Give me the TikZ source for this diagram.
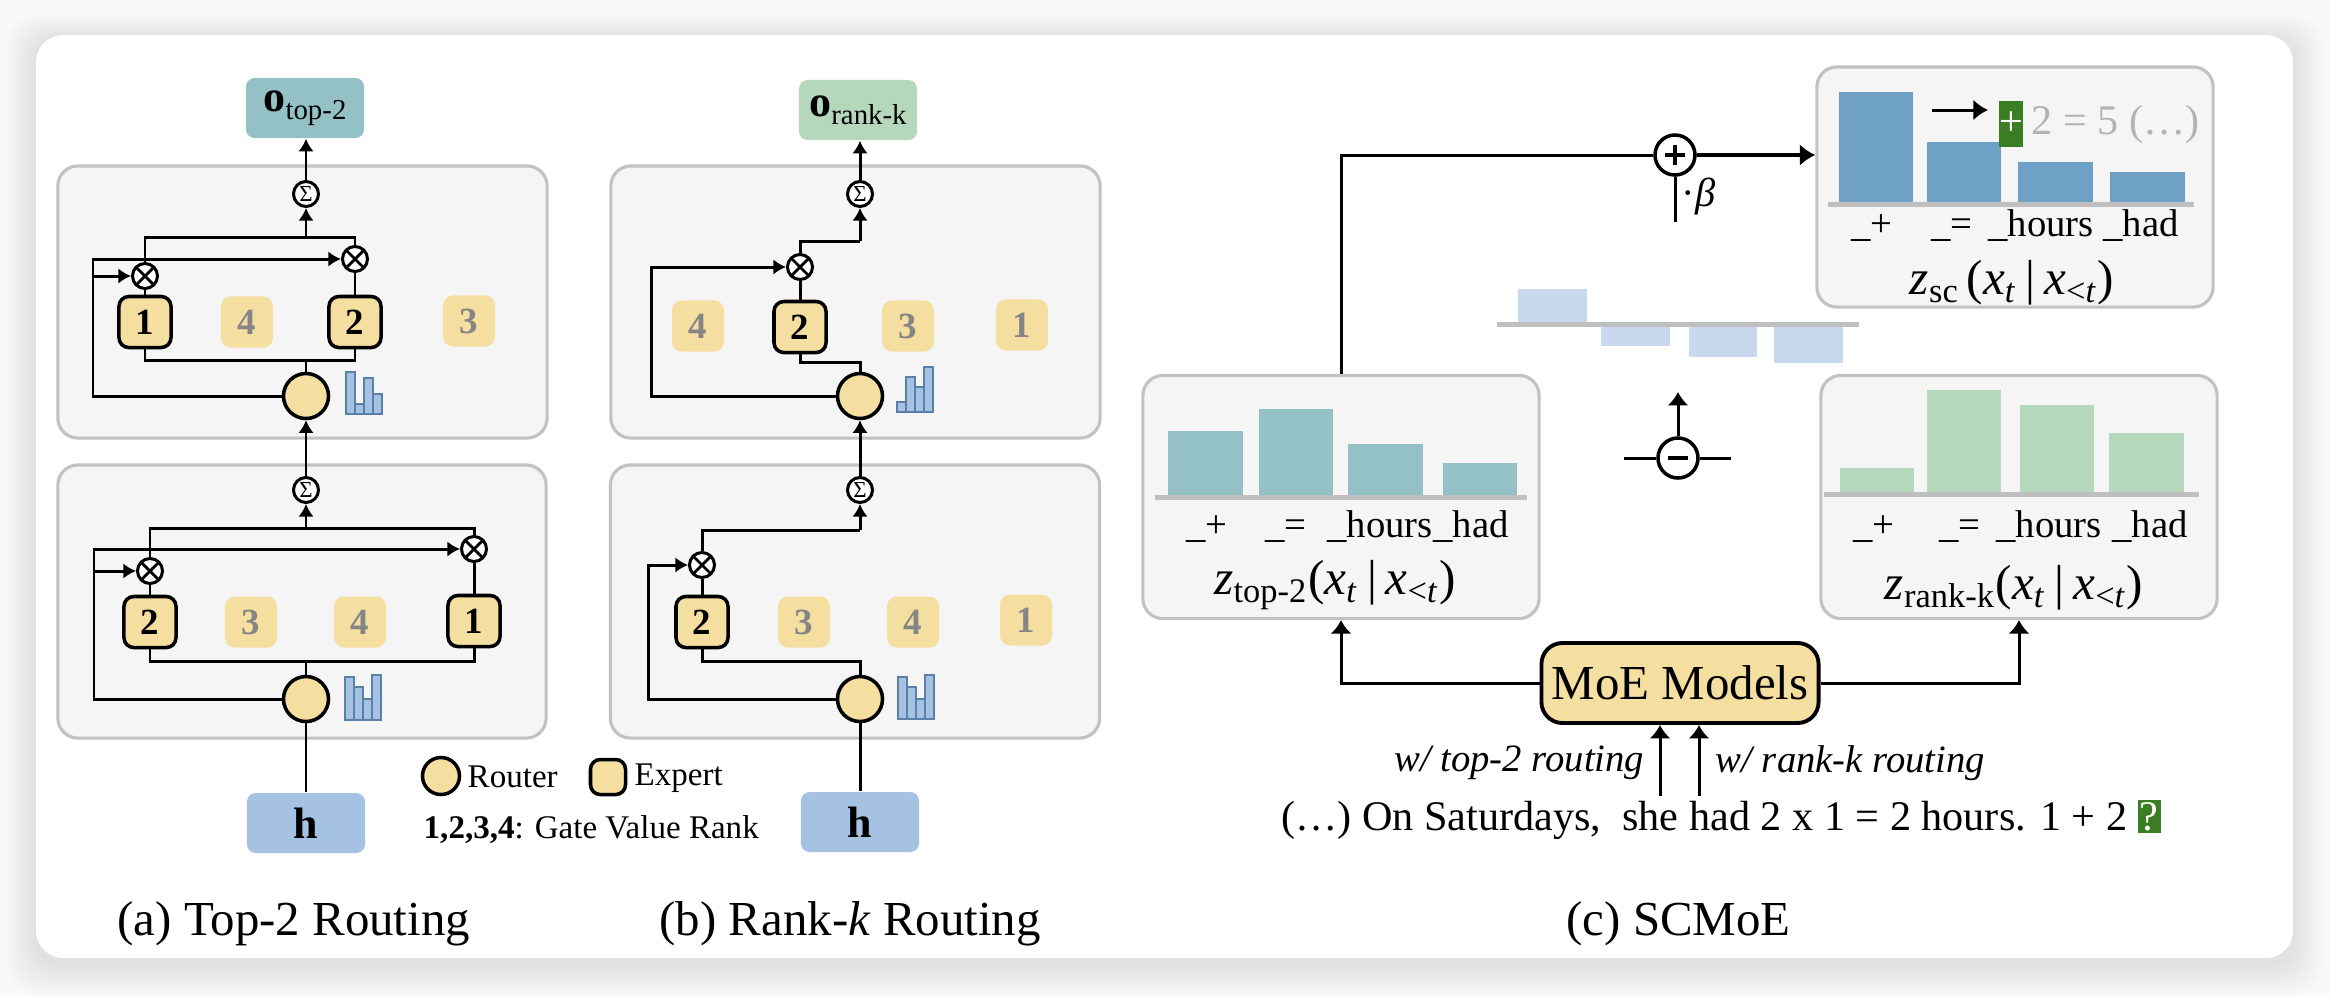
\documentclass[tikz,border=0pt]{standalone}
\usepackage{fontspec}
\setmainfont{Liberation Serif}
\usetikzlibrary{arrows.meta,calc}
\definecolor{bgc}{HTML}{F9F9F9}
\definecolor{expy}{HTML}{F5DFA0}
\definecolor{panelbg}{HTML}{F5F5F5}
\definecolor{panelbd}{HTML}{C2C2C2}
\definecolor{tealc}{HTML}{93C1C6}
\definecolor{greenc}{HTML}{B5D7BC}
\definecolor{bluec}{HTML}{A6C2E2}
\definecolor{histbd}{HTML}{5A7FA8}
\definecolor{zscc}{HTML}{6FA0C5}
\definecolor{diffc}{HTML}{C8D8EE}
\definecolor{basec}{HTML}{BFBFBF}
\definecolor{fadetxt}{HTML}{858585}
\definecolor{darkg}{HTML}{3A7D22}
\definecolor{graytxt}{HTML}{B3B3B3}
\newcommand\myfs[1]{\fontsize{#1}{#1}\selectfont}
\newcommand\mhist[6]{%
  \foreach \tp [count=\k from 0] in {#3,#4,#5,#6}{\draw[histbar] ({#1+\k*9},#2) rectangle ({#1+\k*9+9},\tp);}}
\tikzset{
 wire/.style={line width=0.85pt},
 arr/.style={wire,-{Latex[length=3.6pt,width=4.4pt]}},
 carr/.style={wire,-{Latex[length=3.8pt,width=6pt]}},
 panel/.style={draw=panelbd,line width=0.9pt,fill=panelbg,rounded corners=5.7pt,inner sep=0pt},
 expon/.style={draw=black,line width=1pt,fill=expy,rounded corners=2.8pt,minimum width=0.52cm,minimum height=0.51cm,inner sep=0pt,font=\myfs{10.5}\bfseries},
 expoff/.style={fill=expy,rounded corners=2.8pt,minimum width=0.52cm,minimum height=0.51cm,inner sep=0pt,text=fadetxt,font=\myfs{10.5}\bfseries},
 router/.style={circle,draw=black,line width=1pt,fill=expy,minimum size=0.45cm,inner sep=0pt},
 mult/.style={circle,draw=black,line width=0.85pt,fill=white,minimum size=0.25cm,inner sep=0pt,
   path picture={\draw[line width=0.8pt] (path picture bounding box.north west)--(path picture bounding box.south east) (path picture bounding box.north east)--(path picture bounding box.south west);}},
 sumn/.style={circle,draw=black,line width=0.85pt,fill=white,minimum size=0.25cm,inner sep=0pt,font=\myfs{6.5}},
 outbox/.style={rounded corners=2.5pt,minimum width=1.18cm,minimum height=0.6cm,inner sep=0pt},
 histbar/.style={fill=bluec,draw=histbd,line width=0.35pt},
 cbox/.style={draw=panelbd,line width=0.9pt,fill=panelbg,rounded corners=5.7pt,minimum width=3.96cm,minimum height=2.43cm,inner sep=0pt},
 tok/.style={font=\myfs{11},anchor=base,inner sep=0pt},
 lbl/.style={inner sep=0pt},
 opnode/.style={circle,draw=black,line width=1pt,fill=white,minimum size=0.4cm,inner sep=0pt}
}
\begin{document}
\begin{tikzpicture}[x=0.01cm,y=-0.01cm]
\useasboundingbox (0,0) rectangle (2330,996);
% background and card
\fill[bgc] (0,0) rectangle (2330,996);
\foreach \i in {1,...,12}{\fill[black,opacity=0.009,rounded corners=8pt] ({36-\i*2.5},{35-\i*2+4}) rectangle ({2293+\i*2.5},{958+\i*2.5+6});}
\fill[white,rounded corners=7.7pt] (36,35) rectangle (2293,958);

% ================= panel (a)
\node[panel,minimum width=4.89cm,minimum height=2.72cm] (pA1) at (302.5,302) {};
\node[panel,minimum width=4.88cm,minimum height=2.73cm] (pA2) at (302,601.5) {};
\node[outbox,fill=tealc] (oA) at (305,108) {{\myfs{12.5}\bfseries o}\raisebox{-2.2pt}{\myfs{8.2}top-2}};
\node[sumn] (sA1) at (306,194) {Σ};
\node[mult] (mA1L) at (145,276) {};
\node[mult] (mA1R) at (355,259) {};
\node[expon] (eA1a) at (145,322) {1};
\node[expoff] (eA1b) at (247,322) {4};
\node[expon] (eA1c) at (355,322) {2};
\node[expoff] (eA1d) at (469,321) {3};
\node[router] (rA1) at (306,396) {};
\mhist{346}{414}{372}{404}{378}{394}
\coordinate (busA1) at (306,237);
\coordinate (bbA1) at (306,360);
\coordinate (gA1a) at (93,259);
\coordinate (gA1b) at (93,276);
\draw[wire] (mA1L.north) |- (busA1) -| (mA1R.north);
\draw[arr] (busA1) -- (sA1.south);
\draw[arr] (sA1.north) -- (sA1.north |- oA.south);
\draw[wire] (eA1a.north) -- (mA1L.south);
\draw[wire] (eA1c.north) -- (mA1R.south);
\draw[wire] (eA1a.south) |- (bbA1) -| (eA1c.south);
\draw[wire] (bbA1) -- (rA1.north);
\draw[arr] (rA1.west) -| (gA1a) -- (mA1R.west);
\draw[arr] (gA1b) -- (mA1L.west);

\node[sumn] (sA2) at (306,490) {Σ};
\node[mult] (mA2L) at (150,571) {};
\node[mult] (mA2R) at (474,549) {};
\node[expon] (eA2a) at (150,622) {2};
\node[expoff] (eA2b) at (251,622) {3};
\node[expoff] (eA2c) at (360,622) {4};
\node[expon] (eA2d) at (474,621) {1};
\node[router] (rA2) at (306,699) {};
\mhist{345}{720}{677}{687}{699}{675}
\coordinate (busA2) at (306,528);
\coordinate (bbA2) at (306,661);
\coordinate (gA2a) at (94,549);
\coordinate (gA2b) at (94,571);
\draw[wire] (mA2L.north) |- (busA2) -| (mA2R.north);
\draw[arr] (busA2) -- (sA2.south);
\draw[arr] (sA2.north) -- (rA1.south);
\draw[wire] (eA2a.north) -- (mA2L.south);
\draw[wire] (eA2d.north) -- (mA2R.south);
\draw[wire] (eA2a.south) |- (bbA2) -| (eA2d.south);
\draw[wire] (bbA2) -- (rA2.north);
\draw[arr] (rA2.west) -| (gA2a) -- (mA2R.west);
\draw[arr] (gA2b) -- (mA2L.west);
\node[outbox,fill=bluec] (hA) at (306,823) {\myfs{12.5}\bfseries h};
\draw[wire] (hA.north) -- (rA2.south);

% ================= panel (b)
\node[panel,minimum width=4.89cm,minimum height=2.72cm] (pB1) at (855.5,302) {};
\node[panel,minimum width=4.89cm,minimum height=2.73cm] (pB2) at (855,601.5) {};
\node[outbox,fill=greenc] (oB) at (858,110) {{\myfs{12.5}\bfseries o}\raisebox{-2.2pt}{\myfs{8.2}rank-k}};
\node[sumn] (sB1) at (860,194) {Σ};
\node[mult] (mB1) at (800,267) {};
\node[expoff] (eB1a) at (698,326) {4};
\node[expon] (eB1b) at (800,327) {2};
\node[expoff] (eB1c) at (908,326) {3};
\node[expoff] (eB1d) at (1022,325) {1};
\node[router] (rB1) at (860,396) {};
\mhist{897}{412}{402}{377}{387}{367}
\coordinate (busB1) at (860,241);
\coordinate (bbB1) at (860,362);
\coordinate (gB1) at (651,267);
\draw[wire] (mB1.north) |- (busB1);
\draw[arr] (busB1) -- (sB1.south);
\draw[arr] (sB1.north) -- (sB1.north |- oB.south);
\draw[wire] (eB1b.north) -- (mB1.south);
\draw[wire] (eB1b.south) |- (bbB1) -- (rB1.north);
\draw[arr] (rB1.west) -| (gB1) -- (mB1.west);

\node[sumn] (sB2) at (860,490) {Σ};
\node[mult] (mB2) at (702,565) {};
\node[expon] (eB2a) at (702,622) {2};
\node[expoff] (eB2b) at (804,622) {3};
\node[expoff] (eB2c) at (913,622) {4};
\node[expoff] (eB2d) at (1026,620) {1};
\node[router] (rB2) at (860,699) {};
\mhist{898}{719}{677}{687}{699}{675}
\coordinate (busB2) at (860,530);
\coordinate (bbB2) at (860,661);
\coordinate (gB2) at (648,565);
\draw[wire] (mB2.north) |- (busB2);
\draw[arr] (busB2) -- (sB2.south);
\draw[arr] (sB2.north) -- (rB1.south);
\draw[wire] (eB2a.north) -- (mB2.south);
\draw[wire] (eB2a.south) |- (bbB2) -- (rB2.north);
\draw[arr] (rB2.west) -| (gB2) -- (mB2.west);
\node[outbox,fill=bluec] (hB) at (860,822) {\myfs{12.5}\bfseries h};
\draw[wire] (hB.north) -- (rB2.south);

% legend
\node[router,minimum size=0.37cm] (lgR) at (441,776) {};
\node[lbl,anchor=west,font=\myfs{9.4}] (lgRt) at (467,777) {Router};
\node[expon,minimum width=0.35cm,minimum height=0.35cm] (lgE) at (608,777) {};
\node[lbl,anchor=west,font=\myfs{9.4}] (lgEt) at (634,778) {Expert};
\node[lbl,anchor=west,font=\myfs{9.4}] (lgG) at (423,830) {\textbf{1,2,3,4}: Gate Value Rank};

% captions
\node[lbl,anchor=west,font=\myfs{13.9}] (capA) at (117,924) {(a) Top-2 Routing};
\node[lbl,anchor=west,font=\myfs{13.9}] (capB) at (659,924) {(b) Rank-\textit{k} Routing};
\node[lbl,anchor=west,font=\myfs{13.9}] (capC) at (1566,924) {(c) SCMoE};

% ================= panel (c)
\node[cbox] (ztop) at (1341,497) {};
\node[cbox] (zrank) at (2019,497) {};
\node[cbox,minimum height=2.4cm] (zsc) at (2015,187) {};

% top-2 bars
\fill[tealc] (1168,431) rectangle (1243,495);
\fill[tealc] (1259,409) rectangle (1333,495);
\fill[tealc] (1348,444) rectangle (1423,495);
\fill[tealc] (1443,463) rectangle (1517,495);
\fill[basec] (1155,495) rectangle (1527,500);
\node[tok] (t1a) at (1207,537) {\_+};
\node[tok] (t1b) at (1286,537) {\_=};
\node[tok] (t1c) at (1380,537) {\_hours};
\node[tok] (t1d) at (1471,537) {\_had};
\node[lbl,font=\myfs{14}] (ftop) at (1335,585) {\textit{z}\textsubscript{top-2}(\textit{x}\textsubscript{\textit{t}}\hspace{2.5pt}|\hspace{2.5pt}\textit{x}\textsubscript{<\textit{t}})};

% rank-k bars
\fill[greenc] (1840,468) rectangle (1914,492);
\fill[greenc] (1927,390) rectangle (2001,492);
\fill[greenc] (2020,405) rectangle (2094,492);
\fill[greenc] (2109,433) rectangle (2184,492);
\fill[basec] (1824,492) rectangle (2199,497);
\node[tok] (t2a) at (1874,537) {\_+};
\node[tok] (t2b) at (1960,537) {\_=};
\node[tok] (t2c) at (2049,537) {\_hours};
\node[tok] (t2d) at (2150,537) {\_had};
\node[lbl,font=\myfs{14}] (frank) at (2014,588) {\textit{z}\textsubscript{rank-k}(\textit{x}\textsubscript{\textit{t}}\hspace{2.5pt}|\hspace{2.5pt}\textit{x}\textsubscript{<\textit{t}})};

% z_sc bars
\fill[zscc] (1839,92) rectangle (1913,202);
\fill[zscc] (1927,142) rectangle (2001,202);
\fill[zscc] (2018,162) rectangle (2093,202);
\fill[zscc] (2110,172) rectangle (2185,202);
\fill[basec] (1828,202) rectangle (2194,207);
\node[tok] (t3a) at (1872,236) {\_+};
\node[tok] (t3b) at (1952,236) {\_=};
\node[tok] (t3c) at (2041,236) {\_hours};
\node[tok] (t3d) at (2141,236) {\_had};
\node[lbl,font=\myfs{14}] (fsc) at (2012,283) {\textit{z}\textsubscript{sc}\hspace{2pt}(\textit{x}\textsubscript{\textit{t}}\hspace{2.5pt}|\hspace{2.5pt}\textit{x}\textsubscript{<\textit{t}})};
\coordinate (sa1) at (1932,110);
\coordinate (sa2) at (1988,110);
\draw[wire,-{Latex[length=4.2pt,width=6pt]}] (sa1) -- (sa2);
\node[fill=darkg,text=white,minimum width=0.24cm,minimum height=0.45cm,inner sep=0pt,font=\myfs{12}] (gplus) at (2011,124) {+};
\node[lbl,anchor=west,text=graytxt,font=\myfs{12}] (gtxt) at (2031,124) {2 = 5 (…)};

% difference bars
\fill[diffc] (1518,289) rectangle (1587,322);
\fill[diffc] (1601,327) rectangle (1670,346);
\fill[diffc] (1689,327) rectangle (1757,357);
\fill[diffc] (1774,327) rectangle (1843,363);
\fill[basec] (1497,322) rectangle (1859,327);

% plus / beta
\node[opnode,path picture={\draw[line width=1pt] ([xshift=-2.8pt]path picture bounding box.center) -- ([xshift=2.8pt]path picture bounding box.center) ([yshift=-2.8pt]path picture bounding box.center) -- ([yshift=2.8pt]path picture bounding box.center);}] (plus) at (1675,155) {};
\draw[wire] (ztop.north) |- (plus.west);
\draw[line width=1.4pt,-{Latex[length=4.4pt,width=6.2pt]}] (plus.east) -- (plus.east -| zsc.west);
\coordinate (bstub) at (1675,222);
\draw[wire] (plus.south) -- (bstub);
\node[lbl,anchor=west,font=\myfs{11.5}] (beta) at (1681,197) {·\textit{β}};

% minus
\node[opnode,path picture={\draw[line width=1pt] ([xshift=-2.8pt]path picture bounding box.center) -- ([xshift=2.8pt]path picture bounding box.center);}] (minus) at (1678,458) {};
\coordinate (mL) at (1624,458);
\coordinate (mR) at (1731,458);
\coordinate (mUp) at (1678,392);
\draw[wire] (mL) -- (minus.west);
\draw[wire] (minus.east) -- (mR);
\draw[carr] (minus.north) -- (mUp);

% MoE
\node[draw=black,line width=1.1pt,fill=expy,rounded corners=6pt,minimum width=2.77cm,minimum height=0.8cm,inner sep=0pt,font=\myfs{13.9}] (moe) at (1680,683) {MoE Models};
\draw[carr] (moe.west) -| (ztop.south);
\draw[carr] (moe.east) -| (zrank.south);
\node[lbl,font=\myfs{12}] (sent) at (1721,820) {(…) On Saturdays,\ \ she had 2 x 1 = 2 hours. 1 + 2 {\fboxsep=0.6pt\colorbox{darkg}{\color{white}?}}};
\coordinate (inA) at (1660,796);
\coordinate (inB) at (1699,796);
\draw[carr] (inA) -- (inA |- moe.south);
\draw[carr] (inB) -- (inB |- moe.south);
\node[lbl,anchor=east,font=\myfs{11}\itshape] (lw1) at (1645,763) {w/ top-2 routing};
\node[lbl,anchor=west,font=\myfs{11}\itshape] (lw2) at (1715,763) {w/ rank-k routing};
\end{tikzpicture}
\end{document}
